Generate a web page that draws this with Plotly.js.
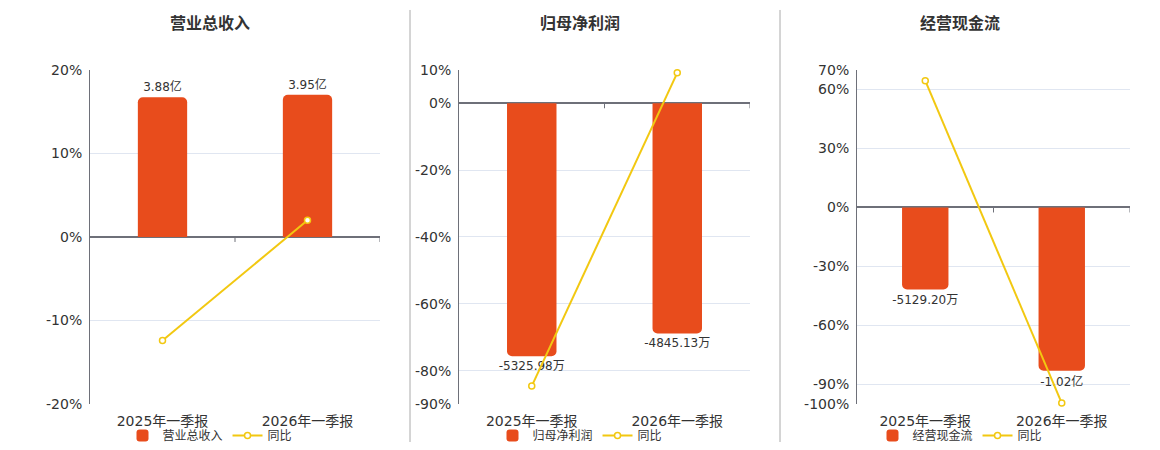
<!DOCTYPE html>
<html><head><meta charset="utf-8">
<script src="https://cdn.plot.ly/plotly-3.0.1.min.js"></script>
<style>html,body{margin:0;padding:0;background:#fff}#c{width:1160px;height:450px}</style>
</head><body><div id="c"></div>
<script>
const categories = ['2025年一季报', '2026年一季报'];
const panelTitles = ['营业总收入', '归母净利润', '经营现金流'];
// bar values (亿 for panel1, 万 for panels 2/3)
const revenue = [3.88, 3.95];
const revenueLabels = ['3.88亿', '3.95亿'];
const revenueYoY = [-12.4, 2.0];
const netProfit = [-5325.98, -4845.13];
const netProfitLabels = ['-5325.98万', '-4845.13万'];
const netProfitYoY = [-84.6, 9.1];
const cashFlow = [-5129.20, -10200];
const cashFlowLabels = ['-5129.20万', '-1.02亿'];
const cashFlowYoY = [64.5, -99.5];
const tickVals1 = [20, 10, 0, -10, -20];
const tickVals2 = [10, 0, -20, -40, -60, -80, -90];
const tickVals3 = [70, 60, 30, 0, -30, -60, -90, -100];

const BAR = '#E84C1C', LINE = '#F2C811', GRID = '#E0E6F1', AX = '#6E7079', TXT = '#333';
const FONT = 'DejaVu Sans, Noto Sans CJK SC, sans-serif';
const TFONT = 'Noto Sans CJK SC, sans-serif';
const W = 1160, H = 450;
const plots = [
  {x0: 90, x1: 380, pr: [-20, 20], br: [-4.642, 4.642], tv: tickVals1, bars: revenue, lab: revenueLabels, yoy: revenueYoY, cx: 210},
  {x0: 459, x1: 750, pr: [-90, 10], br: [-6334, 703.8], tv: tickVals2, bars: netProfit, lab: netProfitLabels, yoy: netProfitYoY, cx: 580},
  {x0: 857, x1: 1130, pr: [-100, 70], br: [-12290, 8603], tv: tickVals3, bars: cashFlow, lab: cashFlowLabels, yoy: cashFlowYoY, cx: 960}
];
const yDom = [1 - 405 / H, 1 - 70 / H];
const data = [], layout = {
  width: W, height: H, margin: {l: 0, r: 0, t: 0, b: 0},
  paper_bgcolor: '#fff', plot_bgcolor: 'rgba(0,0,0,0)',
  font: {family: FONT, color: TXT, size: 12},
  showlegend: true, barcornerradius: 5, hovermode: false,
  annotations: [], shapes: []
};
plots.forEach((p, i) => {
  const n = i + 1;
  const xa = 'x' + (n === 1 ? '' : n);
  const yb = 'y' + (2 * n - 1 === 1 ? '' : (2 * n - 1)); // bars (base, hidden)
  const ya = 'y' + (2 * n);                                // percent (overlay)
  const lg = 'legend' + (n === 1 ? '' : n);
  data.push({
    type: 'bar', x: categories, y: p.bars, xaxis: xa, yaxis: yb, name: panelTitles[i],
    marker: {color: BAR}, width: 0.34, text: p.lab, textposition: 'outside',
    textfont: {size: 12, color: TXT, family: FONT}, cliponaxis: false, constraintext: 'none',
    legend: lg
  });
  data.push({
    type: 'scatter', mode: 'lines+markers', x: categories, y: p.yoy, xaxis: xa, yaxis: ya, name: '同比',
    line: {color: LINE, width: 2}, marker: {symbol: 'circle', size: 6, color: '#fff', line: {color: LINE, width: 1.5}},
    cliponaxis: false, legend: lg
  });
  layout['xaxis' + (n === 1 ? '' : n)] = {
    domain: [p.x0 / W, p.x1 / W], anchor: yb, type: 'category', range: [-0.5, 1.5],
    showgrid: false, zeroline: false, showline: false, ticks: '', ticklabelstandoff: 7,
    tickfont: {size: 14, color: TXT, family: FONT}, fixedrange: true
  };
  layout['yaxis' + (2 * n - 1 === 1 ? '' : (2 * n - 1))] = {
    domain: yDom, anchor: xa, range: p.br, visible: false, showgrid: false, zeroline: false, fixedrange: true
  };
  layout['yaxis' + (2 * n)] = {
    domain: yDom, anchor: xa, overlaying: yb, side: 'left', range: p.pr, tickmode: 'array', tickvals: p.tv,
    ticktext: p.tv.map(v => v + '%'),
    showgrid: true, gridcolor: GRID, gridwidth: 1, zeroline: true, zerolinecolor: AX, zerolinewidth: 2,
    showline: true, linecolor: AX, linewidth: 1, ticks: '', ticklabelstandoff: 4,
    tickfont: {size: 14, color: TXT, family: FONT}, fixedrange: true
  };
  layout[lg] = {
    orientation: 'h', x: p.cx / W, xanchor: 'center', y: 1 - 436 / H, yanchor: 'middle',
    font: {size: 12, color: TXT, family: FONT}, bgcolor: 'rgba(0,0,0,0)', itemwidth: 30, tracegroupgap: 0
  };
  layout.annotations.push({
    text: '<b>' + panelTitles[i] + '</b>', xref: 'paper', yref: 'paper', x: p.cx / W, y: 1 - 22 / H,
    xanchor: 'center', yanchor: 'middle', showarrow: false, font: {size: 16, color: TXT, family: TFONT}
  });
  [0.5, 1.5].forEach(t => layout.shapes.push({
    type: 'line', xref: xa, yref: ya, x0: t, x1: t, ysizemode: 'pixel', yanchor: 0, y0: 0, y1: -5,
    line: {color: AX, width: 1}
  }));
});
[410, 780].forEach(xp => layout.shapes.push({
  type: 'line', xref: 'paper', yref: 'paper', x0: xp / W, x1: xp / W, y0: 1 - 443 / H, y1: 1 - 10 / H,
  line: {color: '#AAAAAA', width: 1}
}));
Plotly.newPlot('c', data, layout, {displayModeBar: false, staticPlot: true});
</script></body></html>
